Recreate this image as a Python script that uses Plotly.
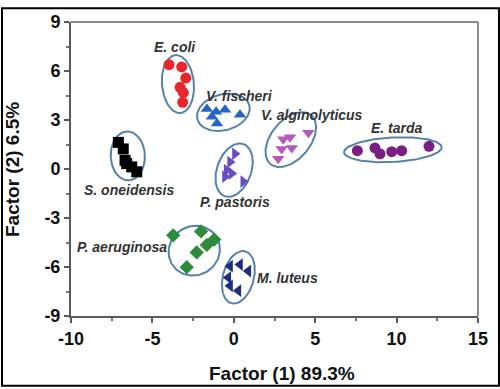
import numpy as np
import plotly.graph_objects as go

# ---- data ----
groups = ["E. coli", "V. fischeri", "V. alginolyticus", "E. tarda",
          "S. oneidensis", "P. pastoris", "P. aeruginosa", "M. luteus"]

ecoli_x = [-3.98, -3.20, -2.95, -3.30, -3.10, -3.14]
ecoli_y = [6.39, 6.25, 5.57, 5.00, 4.68, 4.08]

vfisch_x = [-1.65, -1.09, -0.54, -1.03, 0.38, -1.34]
vfisch_y = [3.68, 3.50, 3.62, 2.78, 3.32, 3.20]

valg_x = [3.04, 4.58, 2.94, 3.56, 2.73, 3.45]
valg_y = [1.82, 2.22, 1.23, 1.29, 0.63, 1.94]

etarda_x = [7.59, 8.67, 8.98, 9.70, 10.31, 11.99]
etarda_y = [1.12, 1.29, 0.93, 1.06, 1.12, 1.39]

soneid_x = [-7.09, -6.79, -6.68, -6.58, -6.27, -5.96]
soneid_y = [1.63, 1.23, 0.53, 0.33, 0.13, -0.17]

ppast_x = [0.07, -0.23, -0.44, -0.54, -0.13, 0.58]
ppast_y = [0.93, 0.43, -0.07, -0.47, -0.27, -0.77]

paer_x = [-3.72, -2.01, -1.20, -1.66, -2.28, -2.89]
paer_y = [-4.06, -3.82, -4.32, -4.65, -5.11, -6.01]

mlut_x = [-0.23, 0.38, 0.89, -0.34, -0.23, 0.28]
mlut_y = [-5.95, -5.85, -6.25, -6.65, -7.15, -7.45]

# ellipse parameters: center x, center y, semi-major, semi-minor, angle (deg)
ell_cx = [-3.43, -0.64, 3.50, 9.77, -6.51, 0.02, -2.43, 0.28]
ell_cy = [5.20, 3.47, 1.80, 1.18, 0.80, -0.07, -5.00, -6.63]
ell_a = [1.78, 1.65, 1.95, 3.00, 1.50, 1.70, 1.60, 1.65]
ell_b = [0.98, 1.10, 1.20, 0.75, 1.05, 1.05, 1.50, 0.95]
ell_ang = [95, 15, 50, 3, 92, 70, 30, 75]

# label positions
lab_x = [-3.6, 0.38, 4.78, 10.0, -6.44, 0.07, -6.89, 3.3]
lab_y = [7.5, 4.47, 3.32, 2.52, -1.27, -2.02, -4.75, -6.65]

x_ticks = [-10, -5, 0, 5, 10, 15]
x_ticktext = ["-10", "-5", "0", "5", "10", "15"]
y_ticks = [-9, -6, -3, 0, 3, 6, 9]
y_ticktext = ["-9", "-6", "-3", "0", "3", "6", "9"]

# ---- styles ----
series = [
    (ecoli_x, ecoli_y, "circle", "#e8262d"),
    (vfisch_x, vfisch_y, "triangle-up", "#2563c4"),
    (valg_x, valg_y, "triangle-down", "#b35bbd"),
    (etarda_x, etarda_y, "circle", "#7b1e84"),
    (soneid_x, soneid_y, "square", "#000000"),
    (ppast_x, ppast_y, "triangle-right", "#6a4cc4"),
    (paer_x, paer_y, "diamond", "#2e8b3c"),
    (mlut_x, mlut_y, "triangle-left", "#1f2b85"),
]

fig = go.Figure()

t = np.linspace(0, 2 * np.pi, 120)
for cx, cy, a, b, ang in zip(ell_cx, ell_cy, ell_a, ell_b, ell_ang):
    th = np.deg2rad(ang)
    ex = cx + a * np.cos(t) * np.cos(th) - b * np.sin(t) * np.sin(th)
    ey = cy + a * np.cos(t) * np.sin(th) + b * np.sin(t) * np.cos(th)
    fig.add_trace(go.Scatter(x=ex, y=ey, mode="lines",
                             line=dict(color="#5482ad", width=2),
                             hoverinfo="skip", showlegend=False))

for name, (xs, ys, sym, col) in zip(groups, series):
    fig.add_trace(go.Scatter(x=xs, y=ys, mode="markers", name=name,
                             marker=dict(symbol=sym, color=col, size=11,
                                         line=dict(width=0)),
                             showlegend=False))

for name, lx, ly in zip(groups, lab_x, lab_y):
    fig.add_annotation(x=lx, y=ly, text="<b><i>" + name + "</i></b>",
                       showarrow=False, xanchor="center", yanchor="middle",
                       font=dict(family="Liberation Sans, Arial", size=14,
                                 color="#333333"))

axis_common = dict(showline=True, linecolor="#5a5a5a", linewidth=2,
                   mirror=False, showgrid=False, zeroline=False,
                   ticks="outside", ticklen=5, tickwidth=2,
                   tickcolor="#5a5a5a",
                   tickfont=dict(family="Liberation Sans, Arial", size=18,
                                 color="#111111", weight="bold"))

fig.update_xaxes(range=[-10, 15], tickvals=x_ticks, ticktext=x_ticktext,
                 minor=dict(dtick=2.5, ticks="outside", ticklen=3,
                            tickwidth=2, tickcolor="#777777"),
                 **axis_common)
fig.update_yaxes(range=[-9, 9], tickvals=y_ticks, ticktext=y_ticktext,
                 minor=dict(dtick=1.5, ticks="outside", ticklen=3,
                            tickwidth=2, tickcolor="#777777"),
                 **axis_common)

# top / right frame (lighter)
fig.add_shape(type="line", xref="paper", yref="paper", x0=0, x1=1, y0=1, y1=1,
              line=dict(color="#8a8a8a", width=2))
fig.add_shape(type="line", xref="paper", yref="paper", x0=1, x1=1, y0=0, y1=1,
              line=dict(color="#8a8a8a", width=2))
# outer border of the picture
fig.add_shape(type="rect", xref="paper", yref="paper",
              x0=-0.1695, x1=1.0515, y0=-0.2375, y1=1.0465,
              line=dict(color="#000000", width=2))

fig.add_annotation(xref="paper", yref="paper", x=0.518, y=-0.196,
                   text="<b>Factor (1) 89.3%</b>", showarrow=False,
                   xanchor="center", yanchor="middle",
                   font=dict(family="Liberation Sans, Arial", size=19,
                             color="#111111"))
fig.add_annotation(xref="paper", yref="paper", x=-0.145, y=0.50,
                   text="<b>Factor (2) 6.5%</b>", showarrow=False,
                   textangle=-90, xanchor="center", yanchor="middle",
                   font=dict(family="Liberation Sans, Arial", size=19,
                             color="#111111"))

fig.update_layout(width=500, height=389,
                  margin=dict(l=71, r=22, t=15, b=73),
                  paper_bgcolor="white", plot_bgcolor="white")

fig.write_html("out.html", config={"displayModeBar": False},
               post_script="document.body.style.margin='0px';"
                           "document.body.style.overflow='hidden';")
